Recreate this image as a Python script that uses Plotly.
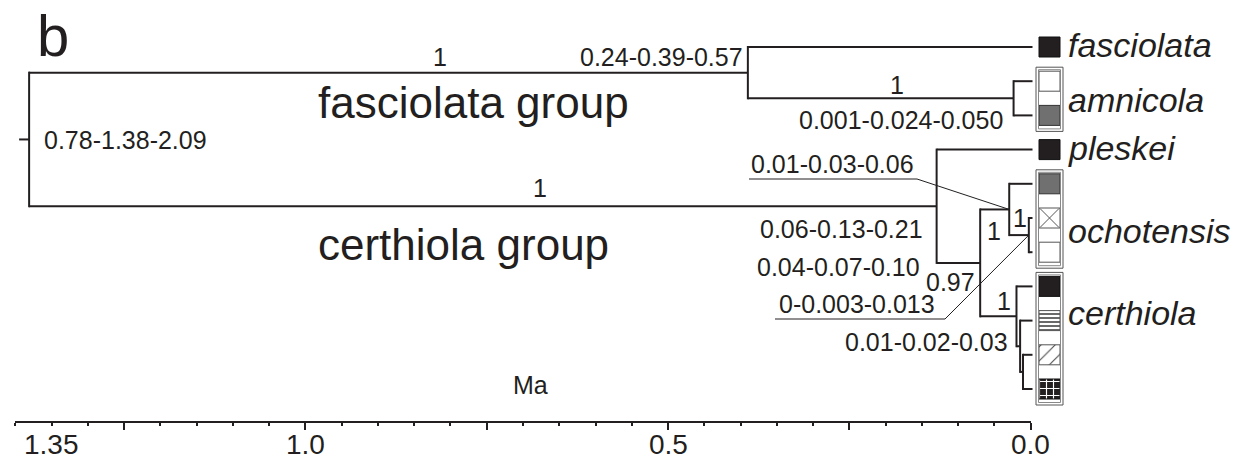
import plotly.graph_objects as go

# ---------------- data ----------------
tip_names = ["fasciolata", "amnicola_1", "amnicola_2", "pleskei",
             "ochotensis_1", "ochotensis_2", "ochotensis_3",
             "certhiola_1", "certhiola_2", "certhiola_3", "certhiola_4"]
tip_fill = ["black", "white", "gray", "black",
            "gray", "cross", "white",
            "black", "hstripe", "diag", "grid"]

node_names = ["root", "fasciolata_grp", "amnicola", "certhiola_grp", "oc_ce",
              "ochotensis", "och_sub", "certhiola", "cer_sub1", "cer_sub2"]
node_ages = [1.38, 0.39, 0.024, 0.13, 0.07, 0.03, 0.003, 0.02, 0.015, 0.011]
node_children = [
    ["fasciolata_grp", "certhiola_grp"],
    ["fasciolata", "amnicola"],
    ["amnicola_1", "amnicola_2"],
    ["pleskei", "oc_ce"],
    ["ochotensis", "certhiola"],
    ["ochotensis_1", "och_sub"],
    ["ochotensis_2", "ochotensis_3"],
    ["certhiola_1", "cer_sub1"],
    ["certhiola_2", "cer_sub2"],
    ["certhiola_3", "certhiola_4"],
]

species_labels = ["fasciolata", "amnicola", "pleskei", "ochotensis", "certhiola"]
species_tips = [["fasciolata"], ["amnicola_1", "amnicola_2"], ["pleskei"],
                ["ochotensis_1", "ochotensis_2", "ochotensis_3"],
                ["certhiola_1", "certhiola_2", "certhiola_3", "certhiola_4"]]
framed_species = ["amnicola", "ochotensis", "certhiola"]

group_labels = ["fasciolata group", "certhiola group"]
support_values = ["1", "1", "1", "1", "1", "1", "0.97"]
age_ranges = ["0.78-1.38-2.09", "0.24-0.39-0.57", "0.001-0.024-0.050",
              "0.01-0.03-0.06", "0.06-0.13-0.21", "0.04-0.07-0.10",
              "0-0.003-0.013", "0.01-0.02-0.03"]

axis_tick_vals = [1.35, 1.0, 0.5, 0.0]
axis_tick_text = ["1.35", "1.0", "0.5", "0.0"]
axis_major = [1.25, 1.0, 0.75, 0.5, 0.25, 0.0]
axis_title = "Ma"
panel_letter = "b"

# ---------------- layout helpers ----------------
W, H = 1239, 464
X0_PX, PX_PER_MA = 1031.0, 726.0


def px2ma(px):
    return (X0_PX - px) / PX_PER_MA


def pfx(px):
    return px / W


def pfy(py):
    return 1 - py / H


INK = "#231f20"
ROW0, ROW = 47.0, 34.2
tip_y = {n: ROW0 + ROW * i for i, n in enumerate(tip_names)}
age = {n: a for n, a in zip(node_names, node_ages)}
kids = {n: c for n, c in zip(node_names, node_children)}
TIP_END = px2ma(1032.5)
for t in tip_names:
    age[t] = 0.0

ypos = dict(tip_y)


def node_y(n):
    if n in ypos:
        return ypos[n]
    ypos[n] = sum(node_y(c) for c in kids[n]) / len(kids[n])
    return ypos[n]


for n in node_names:
    node_y(n)

xs, ys = [], []
for n in node_names:
    cy = [ypos[c] for c in kids[n]]
    xs += [age[n], age[n], None]
    ys += [min(cy) - 1, max(cy) + 1, None]
    for c in kids[n]:
        cx = TIP_END if c in tip_names else age[c]
        xs += [age[n], cx, None]
        ys += [ypos[c], ypos[c], None]
# root stub
xs += [age["root"] + px2ma(0) - px2ma(10), age["root"], None]
ys += [ypos["root"], ypos["root"], None]

fig = go.Figure()
fig.add_trace(go.Scatter(x=xs, y=ys, mode="lines",
                         line=dict(color=INK, width=2), hoverinfo="skip"))

# leader lines to node labels
lead1_x = [px2ma(749), px2ma(917), age["ochotensis"]]
lead1_y = [179, 179, ypos["ochotensis"]]
lead2_x = [px2ma(775), px2ma(945), age["och_sub"]]
lead2_y = [319, 319, ypos["och_sub"]]
for lx, ly in [(lead1_x, lead1_y), (lead2_x, lead2_y)]:
    fig.add_trace(go.Scatter(x=lx, y=ly, mode="lines",
                             line=dict(color=INK, width=1), hoverinfo="skip"))

# frames around multi-haplotype species
for sp, tips in zip(species_labels, species_tips):
    if sp not in framed_species:
        continue
    y0 = tip_y[tips[0]] - 14
    y1 = tip_y[tips[-1]] + 16
    for inset, col in [(0, "#555555"), (2.5, "#888888")]:
        a0, a1 = px2ma(1036 + inset), px2ma(1063 - inset)
        b0, b1 = y0 + inset, y1 - inset
        fig.add_trace(go.Scatter(x=[a0, a1, a1, a0, a0], y=[b0, b0, b1, b1, b0],
                                 mode="lines", line=dict(color=col, width=1),
                                 hoverinfo="skip"))

# haplotype boxes
style = {
    "black": dict(color=INK, line="#111111", shape="", fg=INK, bg=INK, size=8, sol=0.3),
    "gray": dict(color="#707070", line="#333333", shape="", fg="#707070", bg="#707070", size=8, sol=0.3),
    "white": dict(color="white", line="#555555", shape="", fg="white", bg="white", size=8, sol=0.3),
    "cross": dict(color="white", line="#555555", shape="", fg="white", bg="white", size=8, sol=0.3),
    "hstripe": dict(color="white", line="#555555", shape="-", fg="#444444", bg="white", size=4, sol=0.4),
    "diag": dict(color="white", line="#555555", shape="/", fg="#444444", bg="white", size=10, sol=0.1),
    "grid": dict(color=INK, line="#111111", shape="+", fg="white", bg=INK, size=7, sol=0.3),
}
BX0, BX1 = px2ma(1039), px2ma(1060)
for key in dict.fromkeys(tip_fill):
    tips = [t for t, f in zip(tip_names, tip_fill) if f == key]
    s = style[key]
    pat = dict(shape=s["shape"])
    if s["shape"]:
        pat.update(fgcolor=s["fg"], bgcolor=s["bg"], size=s["size"],
                   solidity=s["sol"], fillmode="replace")
    fig.add_trace(go.Bar(
        orientation="h", y=[tip_y[t] for t in tips],
        x=[BX1 - BX0] * len(tips), base=[BX0] * len(tips), width=20,
        marker=dict(color=s["color"], line=dict(color=s["line"], width=1),
                    pattern=pat),
        hoverinfo="skip"))

cross_tips = [t for t, f in zip(tip_names, tip_fill) if f == "cross"]
fig.add_trace(go.Scatter(
    x=[(BX0 + BX1) / 2] * len(cross_tips), y=[tip_y[t] for t in cross_tips],
    mode="markers", marker=dict(symbol="x-thin-open", size=19, color="#555555",
                                line=dict(color="#555555", width=1)),
    hoverinfo="skip"))

# dummy trace for the time axis
fig.add_trace(go.Scatter(x=[0], y=[0], xaxis="x2", yaxis="y", mode="markers",
                         marker=dict(opacity=0), hoverinfo="skip"))

FONT = "Liberation Sans, Arial, sans-serif"
ann = []


def add_text(text, px, py, size, xanchor="center", italic=False):
    t = f"<i>{text}</i>" if italic else text
    ann.append(dict(text=t, x=pfx(px), y=pfy(py), xref="paper", yref="paper",
                    xanchor=xanchor, yanchor="middle", showarrow=False,
                    font=dict(family=FONT, size=size, color=INK)))


add_text(panel_letter, 53, 35, 58)
sup_pos = [(440, 57), (897, 85), (540, 188), (1019.5, 218), (994, 231), (1003.5, 301), (950, 282)]
for s, (px, py) in zip(support_values, sup_pos):
    add_text(s, px, py, 25)
rng_pos = [(42, 140, "left"), (745, 57, "right"), (1005, 120, "right"),
           (749, 164, "left"), (925, 229, "right"), (922, 267, "right"),
           (937, 304, "right"), (1010, 342, "right")]
for s, (px, py, xa) in zip(age_ranges, rng_pos):
    add_text(s, px, py, 25, xa)
add_text(group_labels[0], 316, 102, 44, "left")
add_text(group_labels[1], 316, 244, 44, "left")
sp_y = {"fasciolata": 45, "amnicola": 100, "pleskei": 148, "ochotensis": 231, "certhiola": 313}
for sp in species_labels:
    add_text(sp, 1066, sp_y[sp], 34, "left", italic=True)
add_text(axis_title, 530, 385, 25)
# time-axis tick labels placed at their axis values
for tv, tt in zip(axis_tick_vals, axis_tick_text):
    ann.append(dict(text=tt, x=tv, y=pfy(444), xref="x2",
                    yref="paper", xanchor="center", yanchor="middle", showarrow=False,
                    font=dict(family=FONT, size=28, color=INK)))

fig.update_layout(
    width=W, height=H, margin=dict(l=0, r=0, t=0, b=0, pad=0, autoexpand=False),
    plot_bgcolor="rgba(0,0,0,0)", paper_bgcolor="white", showlegend=False,
    barmode="overlay", annotations=ann,
    xaxis=dict(range=[px2ma(0), px2ma(W)], visible=False, domain=[0, 1],
               automargin=False),
    yaxis=dict(range=[H, 0], visible=False, domain=[0, 1], automargin=False),
    xaxis2=dict(domain=[pfx(15), pfx(1031)], range=[1.4005, -0.0005],
                anchor="free", position=1 - 422 / H, side="bottom",
                automargin=False,
                showline=True, linecolor=INK, linewidth=2,
                ticks="outside", ticklen=7, tickwidth=2, tickcolor=INK,
                tickvals=axis_major, showticklabels=False,
                minor=dict(tick0=0, dtick=0.05, ticks="outside", ticklen=3,
                           tickwidth=2, tickcolor=INK),
                showgrid=False, zeroline=False, fixedrange=True),
)

fig.write_html("out.html", config={"displayModeBar": False},
               post_script="document.body.style.margin='0px';"
                           "document.body.style.overflow='hidden';")
